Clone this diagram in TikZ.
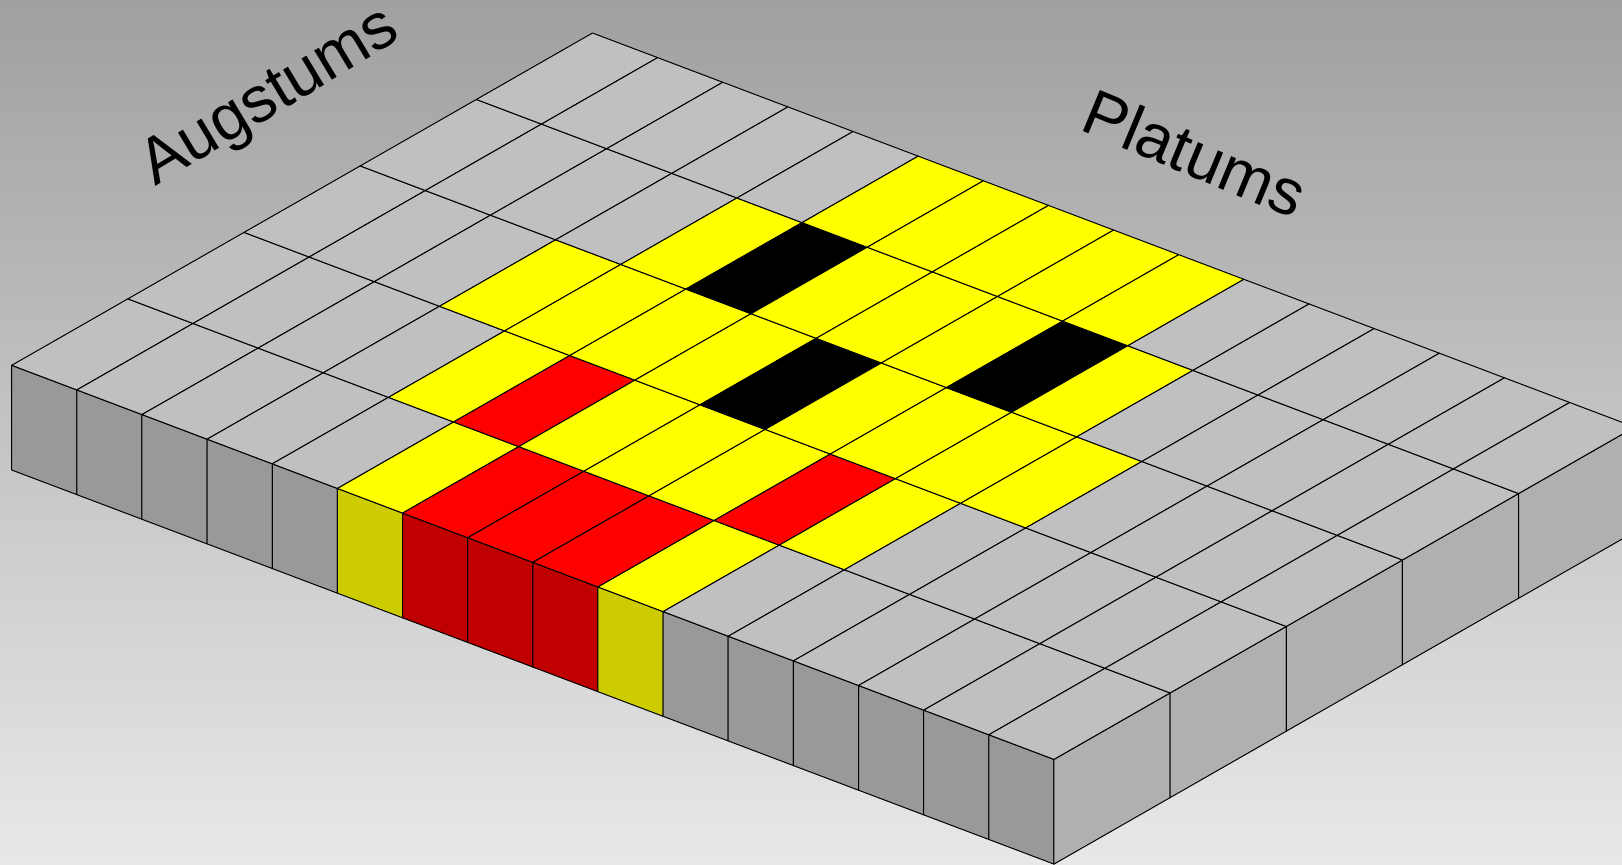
\documentclass[tikz,border=0pt]{standalone}
\usepackage{fontspec}
\setmainfont{Liberation Sans}
\definecolor{bgtop}{HTML}{A0A0A0}
\definecolor{bgbot}{HTML}{E8E8E8}
\definecolor{topg}{HTML}{C0C0C0}
\definecolor{topy}{HTML}{FFFF00}
\definecolor{topr}{HTML}{FF0000}
\definecolor{topk}{HTML}{000000}
\definecolor{sideg}{HTML}{999999}
\definecolor{sidey}{HTML}{CCCC00}
\definecolor{sider}{HTML}{C00000}
\definecolor{rightg}{HTML}{B0B0B0}
\tikzset{
  facecell/.style={draw=black,line width=0.5pt,line join=round},
  axislabel/.style={font=\fontsize{32.3pt}{36pt}\selectfont,text=black,inner sep=0pt}
}
\begin{document}
\begin{tikzpicture}
\useasboundingbox (0pt,0pt) rectangle (811pt,-432pt);
\clip (0pt,0pt) rectangle (811pt,-432pt);
\shade[top color=bgtop,bottom color=bgbot] (0pt,0pt) rectangle (811pt,-432pt);
\begin{scope}[shift={(5.85pt,-182.65pt)},x={(32.57pt,-12.315pt)},y={(58.08pt,33.23pt)},z={(0pt,-52.35pt)}]
  % front faces
  \foreach \c [count=\j from 0] in {g,g,g,g,g,y,r,r,r,y,g,g,g,g,g,g}
    \draw[facecell,fill=side\c] (\j,0,0) -- (\j+1,0,0) -- (\j+1,0,1) -- (\j,0,1) -- cycle;
  % right faces
  \foreach \i in {0,...,4}
    \draw[facecell,fill=rightg] (16,\i,0) -- (16,\i+1,0) -- (16,\i+1,1) -- (16,\i,1) -- cycle;
  % top faces
  \foreach \i/\cells in {
    0/{g,g,g,g,g,y,r,r,r,y,g,g,g,g,g,g},
    1/{g,g,g,g,y,r,y,y,y,r,y,g,g,g,g,g},
    2/{g,g,g,y,y,y,y,k,y,y,y,y,g,g,g,g},
    3/{g,g,g,g,y,k,y,y,y,k,y,g,g,g,g,g},
    4/{g,g,g,g,g,y,y,y,y,y,g,g,g,g,g,g}}
    \foreach \c [count=\j from 0] in \cells
      \draw[facecell,fill=top\c] (\j,\i,0) -- (\j+1,\i,0) -- (\j+1,\i+1,0) -- (\j,\i+1,0) -- cycle;
\end{scope}
\node[axislabel,rotate=31] (augstums) at (135.5pt,-49.5pt) {Augstums};
\node[axislabel,rotate=-22.5] (platums) at (597.5pt,-76.5pt) {Platums};
\end{tikzpicture}
\end{document}
